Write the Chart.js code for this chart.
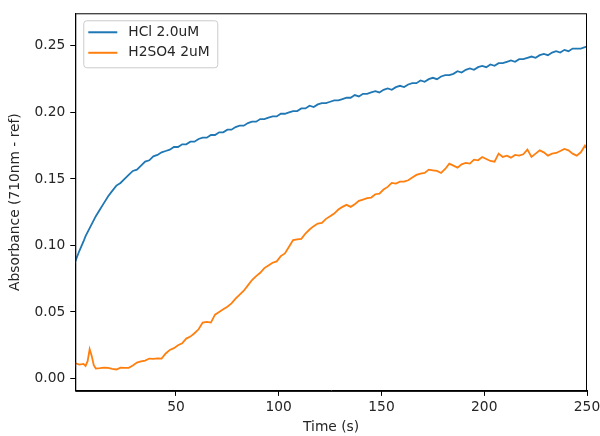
<!DOCTYPE html>
<html>
<head>
<meta charset="utf-8">
<script src="https://cdn.jsdelivr.net/npm/chart.js@4/dist/chart.umd.min.js"></script>
<style>
  body { margin: 0; background: #fff; }
  canvas { display: block; }
</style>
</head>
<body>
<canvas id="absChart" width="600" height="436"></canvas>
<script>
// sample times (s)
const times = [
  0, 1, 3, 5, 6, 7, 8, 9, 10,
  11, 13, 15, 17, 19, 21, 23, 25, 27, 29,
  31, 33, 35, 37, 39, 41, 43, 45, 47, 49,
  51, 53, 55, 57, 59, 61, 63, 65, 67, 69,
  71, 73, 75, 77, 79, 81, 83, 85, 87, 89,
  91, 93, 95, 97, 99, 101, 103, 105, 107, 109,
  111, 113, 115, 117, 119, 121, 123, 125, 127, 129,
  131, 133, 135, 137, 139, 141, 143, 145, 147, 149,
  151, 153, 155, 157, 159, 161, 163, 165, 167, 169,
  171, 173, 175, 177, 179, 181, 183, 185, 187, 189,
  191, 193, 195, 197, 199, 201, 203, 205, 207, 209,
  211, 213, 215, 217, 219, 221, 223, 225, 227, 229,
  231, 233, 235, 237, 239, 241, 243, 245, 247, 249,
  250
];

const hclValues = [
  0.2616, 0.088, 0.096, 0.103, 0.107, 0.110, 0.113, 0.116, 0.119,
  0.122, 0.127, 0.132, 0.137, 0.141, 0.145, 0.147, 0.150, 0.153, 0.156,
  0.157, 0.160, 0.163, 0.164, 0.167, 0.168, 0.170, 0.171, 0.172, 0.174,
  0.174, 0.176, 0.176, 0.178, 0.178, 0.180, 0.181, 0.181, 0.183, 0.183,
  0.185, 0.185, 0.187, 0.187, 0.189, 0.190, 0.190, 0.192, 0.193, 0.193,
  0.195, 0.195, 0.196, 0.197, 0.197, 0.199, 0.199, 0.200, 0.201, 0.201,
  0.203, 0.203, 0.205, 0.204, 0.206, 0.207, 0.207, 0.208, 0.209, 0.209,
  0.210, 0.211, 0.211, 0.213, 0.212, 0.214, 0.214, 0.215, 0.216, 0.215,
  0.217, 0.218, 0.217, 0.219, 0.220, 0.219, 0.221, 0.222, 0.222, 0.224,
  0.223, 0.225, 0.226, 0.225, 0.227, 0.228, 0.228, 0.229, 0.231, 0.230,
  0.232, 0.233, 0.232, 0.234, 0.235, 0.234, 0.236, 0.235, 0.237, 0.237,
  0.238, 0.239, 0.238, 0.240, 0.240, 0.241, 0.242, 0.241, 0.243, 0.244,
  0.243, 0.245, 0.246, 0.245, 0.247, 0.246, 0.248, 0.248, 0.248, 0.249,
  0.2495
];

const h2so4Values = [
  0.0036, 0.0115, 0.0105, 0.011, 0.0095, 0.013, 0.022, 0.017, 0.010,
  0.0075, 0.0078, 0.0082, 0.0080, 0.0072, 0.0068, 0.0082, 0.0080, 0.0080, 0.0098,
  0.0120, 0.0128, 0.0135, 0.0150, 0.0148, 0.0152, 0.0150, 0.0188, 0.0215, 0.0228,
  0.0250, 0.0265, 0.0300, 0.0315, 0.0340, 0.0370, 0.0420, 0.0425, 0.0420, 0.0480,
  0.0500, 0.0520, 0.0540, 0.0565, 0.0600, 0.0630, 0.0660, 0.0700, 0.0740, 0.0770,
  0.0795, 0.0830, 0.0850, 0.0870, 0.0880, 0.0920, 0.0940, 0.0990, 0.1040, 0.1045,
  0.1050, 0.1090, 0.1120, 0.1145, 0.1165, 0.1170, 0.1200, 0.1220, 0.1240, 0.1270,
  0.1290, 0.1305, 0.1290, 0.1310, 0.1335, 0.1345, 0.1355, 0.1360, 0.1385, 0.1390,
  0.1420, 0.1440, 0.1470, 0.1465, 0.1480, 0.1480, 0.1490, 0.1510, 0.1530, 0.1540,
  0.1545, 0.1570, 0.1565, 0.1560, 0.1545, 0.1575, 0.1615, 0.1600, 0.1585, 0.1610,
  0.1620, 0.1615, 0.1645, 0.1640, 0.1665, 0.1650, 0.1635, 0.1630, 0.1690, 0.1665,
  0.1675, 0.1660, 0.1680, 0.1675, 0.1685, 0.1720, 0.1665, 0.1690, 0.1715, 0.1700,
  0.1675, 0.1690, 0.1695, 0.1710, 0.1725, 0.1715, 0.1690, 0.1675, 0.1700, 0.1750,
  0.1730
];

const seriesLabels = ['HCl 2.0uM', 'H2SO4 2uM'];
const xTicks = [50, 100, 150, 200, 250];
const yTicks = [0.00, 0.05, 0.10, 0.15, 0.20, 0.25];

const FONT = 'DejaVu Sans';
const FSIZE = 13.8;
const TEXT = '#262626';

// matplotlib style frame + inset legend
const frameLegend = {
  id: 'frameLegend',
  afterDraw(chart) {
    const { ctx, chartArea: a } = chart;
    ctx.save();
    ctx.strokeStyle = '#000';
    ctx.lineWidth = 1;
    ctx.strokeRect(a.left + 0.5, a.top + 0.5, a.right - a.left - 1, a.bottom - a.top);

    const bx = a.left + 8, by = a.top + 7, bw = 134, bh = 47;
    ctx.fillStyle = 'rgba(255,255,255,0.8)';
    ctx.strokeStyle = '#cccccc';
    ctx.beginPath();
    ctx.roundRect(bx + 0.5, by + 0.5, bw, bh, 3);
    ctx.fill();
    ctx.stroke();

    ctx.font = FSIZE + 'px "' + FONT + '"';
    ctx.textBaseline = 'middle';
    chart.data.datasets.forEach((ds, i) => {
      const y = by + 12 + i * 20.5;
      ctx.strokeStyle = ds.borderColor;
      ctx.lineWidth = 2;
      ctx.beginPath();
      ctx.moveTo(bx + 5, y);
      ctx.lineTo(bx + 34, y);
      ctx.stroke();
      ctx.fillStyle = TEXT;
      ctx.fillText(ds.label, bx + 45, y);
    });
    ctx.restore();
  }
};

const ctx = document.getElementById('absChart').getContext('2d');
const absChart = new Chart(ctx, {
  type: 'line',
  data: {
    datasets: [{
      label: seriesLabels[0],
      data: times.map((t, i) => ({ x: t, y: hclValues[i] })),
      borderColor: '#1f77b4',
      borderWidth: 1.8,
      pointRadius: 0,
      tension: 0
    }, {
      label: seriesLabels[1],
      data: times.map((t, i) => ({ x: t, y: h2so4Values[i] })),
      borderColor: '#ff7f0e',
      borderWidth: 1.8,
      pointRadius: 0,
      tension: 0
    }]
  },
  options: {
    responsive: false,
    animation: false,
    devicePixelRatio: 1,
    layout: {
      padding: { left: 7, right: 0, top: 13, bottom: 0 }
    },
    plugins: {
      legend: { display: false },
      tooltip: { enabled: false }
    },
    scales: {
      x: {
        type: 'linear',
        min: 1,
        max: 250,
        afterBuildTicks: scale => { scale.ticks = xTicks.map(v => ({ value: v })); },
        afterFit: scale => { scale.paddingRight = 13; },
        ticks: {
          color: TEXT,
          font: { family: FONT, size: FSIZE },
          padding: 3,
          maxRotation: 0
        },
        grid: {
          drawOnChartArea: false,
          tickLength: 5,
          tickColor: '#000'
        },
        border: { color: '#000', width: 1 },
        title: {
          display: true,
          text: 'Time (s)',
          color: TEXT,
          font: { family: FONT, size: FSIZE },
          padding: { top: 1, bottom: 0 }
        }
      },
      y: {
        type: 'linear',
        min: -0.0093,
        max: 0.2745,
        afterBuildTicks: scale => { scale.ticks = yTicks.map(v => ({ value: v })); },
        ticks: {
          color: TEXT,
          font: { family: FONT, size: FSIZE },
          padding: 5,
          callback: v => v.toFixed(2)
        },
        grid: {
          drawOnChartArea: false,
          tickLength: 5,
          tickColor: '#000'
        },
        border: { color: '#000', width: 1 },
        title: {
          display: true,
          text: 'Absorbance (710nm - ref)',
          color: TEXT,
          font: { family: FONT, size: FSIZE },
          padding: { top: 0, bottom: 6 }
        }
      }
    }
  },
  plugins: [frameLegend]
});
</script>
</body>
</html>
